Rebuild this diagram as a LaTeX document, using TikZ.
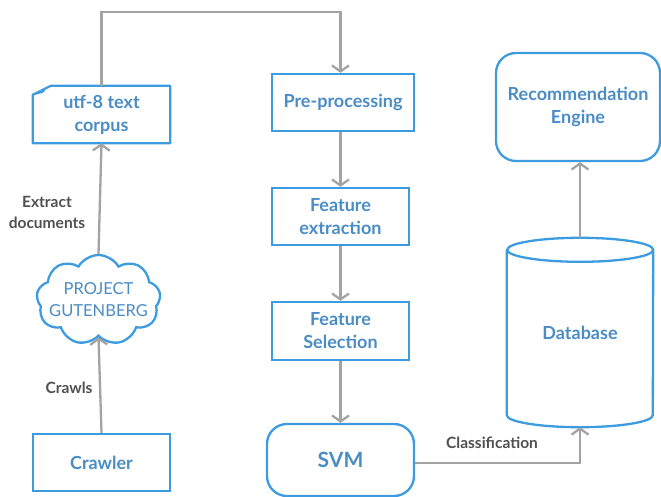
\documentclass[tikz,border=0pt]{standalone}
\usepackage{fontspec}
\setmainfont{Lato}
\usetikzlibrary{arrows.meta,shapes.symbols}
\definecolor{bord}{HTML}{3D9BE0}
\definecolor{txtc}{HTML}{4A8CC4}
\definecolor{connc}{HTML}{A3A3A3}
\definecolor{lblc}{HTML}{505050}
\begin{document}
\begin{tikzpicture}[x=1pt,y=-1pt,
  box/.style={draw=bord, line width=2.3pt, text=txtc, font=\fontsize{18}{23}\selectfont\bfseries, align=center, inner sep=0pt},
  ghost/.style={text=txtc, font=\fontsize{18}{23}\selectfont\bfseries, align=center, inner sep=0pt},
  conn/.style={draw=connc, line width=2.3pt, -{Straight Barb[length=6pt,width=17pt,line width=2.3pt]}},
  lab/.style={text=lblc, font=\fontsize{15.5}{21}\selectfont\bfseries, align=center}]
\useasboundingbox (0,0) rectangle (661,497);

% left column
\node[ghost, minimum width=137, minimum height=57] (corpus) at (101.5,114.5) {utf-8 text\\corpus};
\draw[draw=bord, line width=2.3pt, line join=round]
  ([yshift=-9pt]corpus.north west) -- ([xshift=18pt]corpus.north west)
  -- (corpus.north east) -- (corpus.south east) -- (corpus.south west) -- cycle;
\draw[draw=bord, line width=1.4pt]
  ([yshift=-9pt]corpus.north west) .. controls ([xshift=8pt,yshift=-6pt]corpus.north west) and ([xshift=11pt,yshift=-8pt]corpus.north west) .. ([xshift=12pt,yshift=-3pt]corpus.north west);

\node[cloud, draw=bord, line width=2.3pt, cloud puffs=9, cloud puff arc=120, aspect=1.35,
      minimum width=124, minimum height=90, inner sep=0pt] (pg) at (98.5,300) {};
\node[text=txtc, font=\fontsize{16.5}{22}\selectfont, align=center] (pgtext) at (pg.center) {PROJECT\\GUTENBERG};

\node[box, minimum width=137, minimum height=57] (crawler) at (101.5,462.5) {Crawler};

% middle column
\node[box, minimum width=142, minimum height=57] (pre) at (343,102.5) {Pre-processing};
\node[box, minimum width=137, minimum height=57] (fe) at (340.5,216.5) {Feature\\extraction};
\node[box, minimum width=137, minimum height=58] (fs) at (340.5,331) {Feature\\Selection};
\node[box, rounded corners=20pt, minimum width=147, minimum height=72, font=\fontsize{21}{23}\selectfont\bfseries] (svm) at (340.5,460) {SVM};

% right column
\node[box, rounded corners=20pt, minimum width=164, minimum height=108] (rec) at (578,107) {Recommendation\\Engine};
\node[ghost, minimum width=146, minimum height=165] (db) at (580,332.5) {Database};
\draw[draw=bord, line width=2.3pt]
  (db.north west) -- (db.south west) arc[start angle=180, end angle=360, x radius=73pt, y radius=12pt]
  -- (db.north east) arc[start angle=0, end angle=360, x radius=73pt, y radius=12pt];
\coordinate (dbtop) at ([yshift=12pt]db.north);
\coordinate (dbbot) at ([yshift=-12pt]db.south);

% connectors
\draw[conn] (crawler.north) -- (pg.south);
\draw[conn] (pg.north) -- (corpus.south);
\coordinate (bend1) at (101.5,12);
\coordinate (bend2) at (340.5,12);
\coordinate (preIn) at ([xshift=-2.5pt]pre.north);
\draw[conn] (corpus.north) -- (bend1) -- (bend2) -- (preIn);
\draw[conn] ([xshift=-2.5pt]pre.south) -- (fe.north);
\draw[conn] (fe.south) -- (fs.north);
\draw[conn] (fs.south) -- (svm.north);
\draw[conn] ([yshift=-3pt]svm.east) -| (dbbot);
\draw[conn] (dbtop) -- (dbtop |- rec.south);

% labels
\node[lab] (lcrawls) at (69,388) {Crawls};
\node[lab] (lextract) at (47,212) {Extract\\documents};
\node[lab] (lclass) at (492,443) {Classification};
\end{tikzpicture}
\end{document}
